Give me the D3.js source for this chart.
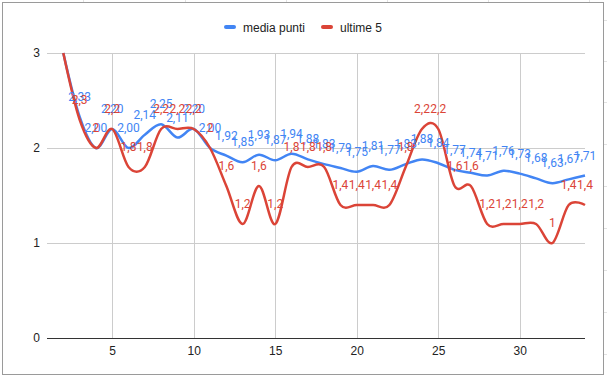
<!DOCTYPE html>
<html lang="it">

<head>
  <meta charset="UTF-8">
  <script src="https://cdn.jsdelivr.net/npm/d3@7"></script>
  <title>media punti</title>
  <style>
    body {
      margin: 0;
      background: white;
    }

    text {
      font-family: Arial, 'Liberation Sans', sans-serif;
    }

    .lbl {
      font-family: Roboto, 'Noto Sans', sans-serif;
      font-size: 12px;
    }
  </style>
</head>

<body>
  <svg width="607" height="376" id="chart"></svg>
  <script>
    const giornate = [2, 3, 4, 5, 6, 7, 8, 9, 10, 11, 12, 13, 14, 15, 16, 17, 18,
      19, 20, 21, 22, 23, 24, 25, 26, 27, 28, 29, 30, 31, 32, 33, 34];
    const mediaPunti = [3.00, 2.33, 2.00, 2.20, 2.00, 2.14, 2.25, 2.11, 2.20, 2.00, 1.92,
      1.85, 1.93, 1.87, 1.94, 1.88, 1.83, 1.79, 1.75, 1.81, 1.77, 1.83, 1.88, 1.84,
      1.77, 1.74, 1.71, 1.76, 1.73, 1.68, 1.63, 1.67, 1.71];
    const ultime5 = [3, 2.3, 2, 2.2, 1.8, 1.8, 2.2, 2.2, 2.2, 2, 1.6, 1.2, 1.6, 1.2,
      1.8, 1.8, 1.8, 1.4, 1.4, 1.4, 1.4, 1.8, 2.2, 2.2, 1.6, 1.6, 1.2, 1.2, 1.2, 1.2,
      1, 1.4, 1.4];
    const xTicks = [5, 10, 15, 20, 25, 30];
    const yTicks = [0, 1, 2, 3];

    const series = [
      { name: "media punti", values: mediaPunti, color: "#4285f4", fmt: v => v.toFixed(2).replace(".", ",") },
      { name: "ultime 5", values: ultime5, color: "#db4437", fmt: v => String(v).replace(".", ",") }
    ];

    const svg = d3.select("#chart");

    // sheet cells around the chart box
    [83, 185, 286, 387, 488, 589].forEach(x => {
      svg.append("line").attr("x1", x + 0.5).attr("x2", x + 0.5).attr("y1", 0).attr("y2", 3)
        .attr("stroke", "#e2e2e2");
    });
    [20, 61, 102, 144, 186, 228, 270, 312, 354].forEach(y => {
      svg.append("line").attr("x1", 604).attr("x2", 607).attr("y1", y + 0.5).attr("y2", y + 0.5)
        .attr("stroke", "#e2e2e2");
    });
    svg.append("rect").attr("x", 2.5).attr("y", 2.5).attr("width", 601).attr("height", 372)
      .attr("fill", "white").attr("stroke", "#9a9a9a");

    const x = d3.scaleLinear().domain([1, 34]).range([47, 585]);
    const y = d3.scaleLinear().domain([0, 3]).range([338, 53]);

    // grid
    svg.append("g").selectAll("line.h")
      .data(yTicks).enter().append("line").attr("class", "h")
      .attr("x1", x.range()[0]).attr("x2", x.range()[1])
      .attr("y1", d => y(d) + 0.5).attr("y2", d => y(d) + 0.5)
      .attr("stroke", d => d === 0 ? "#333" : "#cccccc");
    svg.append("g").selectAll("line.v")
      .data(xTicks).enter().append("line").attr("class", "v")
      .attr("x1", d => Math.round(x(d)) + 0.5).attr("x2", d => Math.round(x(d)) + 0.5)
      .attr("y1", y(3)).attr("y2", y(0))
      .attr("stroke", "#cccccc");
    svg.select("g").raise();

    const xAxis = svg.append("g").attr("transform", `translate(0,${y(0)})`)
      .call(d3.axisBottom(x).tickValues(xTicks).tickSize(0).tickPadding(8));
    const yAxis = svg.append("g").attr("transform", `translate(${x.range()[0]},0)`)
      .call(d3.axisLeft(y).tickValues(yTicks).tickFormat(d3.format("d")).tickSize(0).tickPadding(7));
    [xAxis, yAxis].forEach(a => {
      a.select(".domain").remove();
      a.selectAll("text").style("font-size", "12px").attr("fill", "#222")
        .style("font-family", "Arial, 'Liberation Sans', sans-serif");
    });

    const line = d3.line()
      .x((d, i) => x(giornate[i]))
      .y(d => y(d))
      .curve(d3.curveCardinal.tension(0));

    series.forEach(s => {
      svg.append("path").datum(s.values)
        .attr("fill", "none").attr("stroke", s.color).attr("stroke-width", 2.5)
        .attr("stroke-linejoin", "round").attr("d", line);
    });

    series.forEach(s => {
      svg.append("g").selectAll("text")
        .data(s.values.map((v, i) => ({ g: giornate[i], v })).filter(d => y(d.v) - 17 > y(3)))
        .enter().append("text").attr("class", "lbl")
        .attr("x", d => x(d.g)).attr("y", d => y(d.v) - 16)
        .attr("text-anchor", "middle").attr("fill", s.color)
        .text(d => s.fmt(d.v));
    });

    // legend
    const legend = svg.append("g");
    const items = [{ s: series[0], x: 224 }, { s: series[1], x: 321 }];
    items.forEach(it => {
      legend.append("rect").attr("x", it.x).attr("y", 25).attr("width", 12).attr("height", 4)
        .attr("rx", 2).attr("fill", it.s.color);
      legend.append("text").attr("x", it.x + 19).attr("y", 31.5)
        .style("font-size", "12px").attr("fill", "#222").text(it.s.name);
    });
  </script>
</body>

</html>
